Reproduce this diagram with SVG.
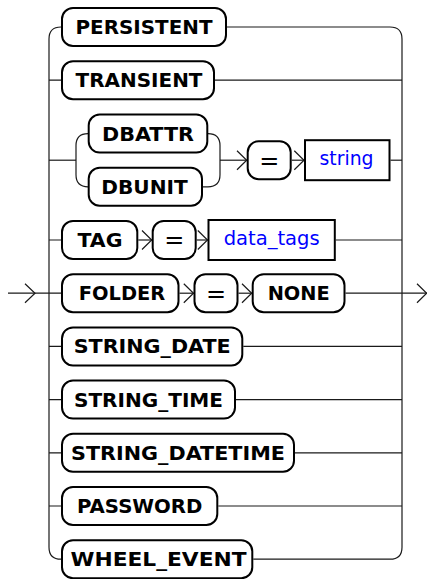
<svg xmlns="http://www.w3.org/2000/svg" width="427" height="579" viewBox="0 0 427 579">
  <style>
    .kw rect { fill: #ffffff; stroke: #000000; stroke-width: 2; }
    .kw text { font-family: "DejaVu Sans", "Liberation Sans", sans-serif; font-weight: bold; font-size: 19.7px; fill: #000000; text-anchor: middle; }
    .kw text.op { font-weight: normal; font-size: 24px; }
    .ref rect { fill: #ffffff; stroke: #000000; stroke-width: 2; }
    .ref text { font-family: "DejaVu Sans", "Liberation Sans", sans-serif; font-size: 19px; fill: #0000ff; text-anchor: middle; }
    .wire { fill: none; stroke: #1a1a1a; stroke-width: 1.2; }
  </style>

  <!-- connectors -->
  <g id="connectors" class="wire">
    <!-- entry -->
    <path d="M8,293.2 H49"/>
    <path d="M25,283.7 L35,293.2 L25,302.7"/>
    <!-- left rail -->
    <path d="M61,27 Q49,27 49,39 V547.2 Q49,559.2 61,559.2"/>
    <path d="M49,80.2 H61 M49,240 H61 M49,293.2 H61 M49,346.4 H61 M49,399.6 H61 M49,452.8 H61 M49,506 H61"/>
    <path d="M49,160.2 H76"/>
    <!-- DBATTR / DBUNIT choice -->
    <path d="M88,133.6 Q76,133.6 76,145.6 V174.8 Q76,186.8 88,186.8"/>
    <path d="M208,133.6 Q220,133.6 220,145.6 V174.8 Q220,186.8 208,186.8 H202"/>
    <path d="M220,160.2 H246.7"/>
    <path d="M237,150.7 L246.7,160.2 L237,169.7"/>
    <path d="M291.7,160.2 H304"/>
    <path d="M294.3,150.7 L304,160.2 L294.3,169.7"/>
    <path d="M390.5,160.2 H402"/>
    <!-- right rail -->
    <path d="M227,27 H390 Q402,27 402,39 V547.2 Q402,559.2 390,559.2 H253.3"/>
    <path d="M215,80.2 H402"/>
    <!-- TAG row -->
    <path d="M138.3,240 H151.7"/>
    <path d="M142,230.5 L151.7,240 L142,249.5"/>
    <path d="M196.7,240 H207.5"/>
    <path d="M197.8,230.5 L207.5,240 L197.8,249.5"/>
    <path d="M335.8,240 H402"/>
    <!-- FOLDER row and exit -->
    <path d="M179.5,293.2 H193.5"/>
    <path d="M183.8,283.7 L193.5,293.2 L183.8,302.7"/>
    <path d="M238.5,293.2 H251.7"/>
    <path d="M242,283.7 L251.7,293.2 L242,302.7"/>
    <path d="M345.5,293.2 H427"/>
    <path d="M417,283.7 L426.7,293.2 L417,302.7"/>
    <!-- remaining rows -->
    <path d="M243.3,346.4 H402"/>
    <path d="M236,399.6 H402"/>
    <path d="M295,452.8 H402"/>
    <path d="M218.3,506 H402"/>
  </g>

  <!-- keyword and reference nodes -->
  <g id="persistent" class="kw">
    <rect x="62" y="8" width="164" height="38" rx="11"/>
    <text x="144" y="34" textLength="137" lengthAdjust="spacingAndGlyphs">PERSISTENT</text>
  </g>
  <g id="transient" class="kw">
    <rect x="62" y="61.2" width="152" height="38" rx="11"/>
    <text x="139" y="87.2" textLength="127" lengthAdjust="spacingAndGlyphs">TRANSIENT</text>
  </g>
  <g id="dbattr" class="kw">
    <rect x="88.7" y="114.6" width="118.6" height="38" rx="11"/>
    <text x="148" y="140.6" textLength="92" lengthAdjust="spacingAndGlyphs">DBATTR</text>
  </g>
  <g id="dbunit" class="kw">
    <rect x="88.7" y="167.8" width="113.3" height="38" rx="11"/>
    <text x="144.5" y="193.8" textLength="86.5" lengthAdjust="spacingAndGlyphs">DBUNIT</text>
  </g>
  <g id="eq-db" class="kw">
    <rect x="247.7" y="141.2" width="43" height="38" rx="11"/>
    <text class="op" x="269.2" y="168.6">=</text>
  </g>
  <g id="string" class="ref">
    <rect x="305" y="140.2" width="84.5" height="40"/>
    <text x="346.5" y="165.4" textLength="54" lengthAdjust="spacingAndGlyphs">string</text>
  </g>
  <g id="tag" class="kw">
    <rect x="62" y="221" width="75.3" height="38" rx="11"/>
    <text x="100" y="247" textLength="45" lengthAdjust="spacingAndGlyphs">TAG</text>
  </g>
  <g id="eq-tag" class="kw">
    <rect x="152.7" y="221" width="43" height="38" rx="11"/>
    <text class="op" x="174.2" y="248.4">=</text>
  </g>
  <g id="data-tags" class="ref">
    <rect x="208.5" y="220" width="126.3" height="40"/>
    <text x="271.7" y="245.2" textLength="96" lengthAdjust="spacingAndGlyphs">data_tags</text>
  </g>
  <g id="folder" class="kw">
    <rect x="62" y="274.2" width="116.5" height="38" rx="11"/>
    <text x="122" y="300.2" textLength="86.5" lengthAdjust="spacingAndGlyphs">FOLDER</text>
  </g>
  <g id="eq-folder" class="kw">
    <rect x="194.5" y="274.2" width="43" height="38" rx="11"/>
    <text class="op" x="216" y="301.6">=</text>
  </g>
  <g id="none" class="kw">
    <rect x="252.7" y="274.2" width="91.8" height="38" rx="11"/>
    <text x="298.7" y="300.2" textLength="62" lengthAdjust="spacingAndGlyphs">NONE</text>
  </g>
  <g id="string-date" class="kw">
    <rect x="62" y="327.4" width="180.3" height="38" rx="11"/>
    <text x="152.2" y="353.4" textLength="157" lengthAdjust="spacingAndGlyphs">STRING_DATE</text>
  </g>
  <g id="string-time" class="kw">
    <rect x="62" y="380.6" width="173" height="38" rx="11"/>
    <text x="148.5" y="406.6" textLength="149" lengthAdjust="spacingAndGlyphs">STRING_TIME</text>
  </g>
  <g id="string-datetime" class="kw">
    <rect x="62" y="433.8" width="232" height="38" rx="11"/>
    <text x="178" y="459.8" textLength="214" lengthAdjust="spacingAndGlyphs">STRING_DATETIME</text>
  </g>
  <g id="password" class="kw">
    <rect x="62" y="487" width="155.3" height="38" rx="11"/>
    <text x="139.7" y="513" textLength="125.5" lengthAdjust="spacingAndGlyphs">PASSWORD</text>
  </g>
  <g id="wheel-event" class="kw">
    <rect x="62" y="540.2" width="190.3" height="38" rx="11"/>
    <text x="158.5" y="566.2" textLength="176" lengthAdjust="spacingAndGlyphs">WHEEL_EVENT</text>
  </g>
</svg>
